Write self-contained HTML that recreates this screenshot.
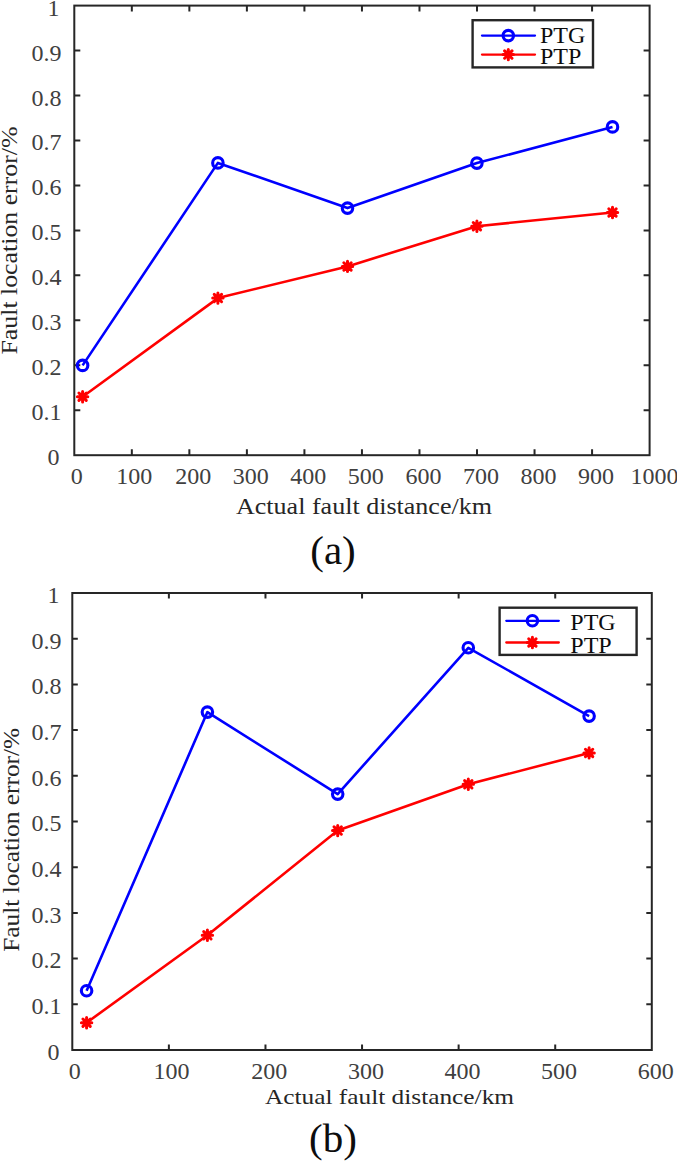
<!DOCTYPE html>
<html><head><meta charset="utf-8"><style>
html,body{margin:0;padding:0;background:#fff;}
svg{display:block;}
text{font-family:"Liberation Serif", serif;fill:#262626;}
.t{fill:#404040;}
.k{fill:#0d0d0d;}
</style></head><body>
<svg width="677" height="1161" viewBox="0 0 677 1161">
<rect width="677" height="1161" fill="#fff"/>
<rect x="74.3" y="5.6" width="575.3" height="449.6" fill="none" stroke="#262626" stroke-width="2"/>
<path d="M131.83 455.2v-6M131.83 5.6v6M189.36 455.2v-6M189.36 5.6v6M246.89 455.2v-6M246.89 5.6v6M304.42 455.2v-6M304.42 5.6v6M361.95 455.2v-6M361.95 5.6v6M419.48 455.2v-6M419.48 5.6v6M477.01 455.2v-6M477.01 5.6v6M534.54 455.2v-6M534.54 5.6v6M592.07 455.2v-6M592.07 5.6v6M74.3 410.24h6M649.6 410.24h-6M74.3 365.28h6M649.6 365.28h-6M74.3 320.32h6M649.6 320.32h-6M74.3 275.36h6M649.6 275.36h-6M74.3 230.4h6M649.6 230.4h-6M74.3 185.44h6M649.6 185.44h-6M74.3 140.48h6M649.6 140.48h-6M74.3 95.52h6M649.6 95.52h-6M74.3 50.56h6M649.6 50.56h-6" stroke="#262626" stroke-width="2" fill="none"/>
<text class="t" x="59.5" y="465.2" text-anchor="end" font-size="24">0</text>
<text class="t" x="61.5" y="420.24" text-anchor="end" font-size="24">0.1</text>
<text class="t" x="61.5" y="375.28" text-anchor="end" font-size="24">0.2</text>
<text class="t" x="61.5" y="330.32" text-anchor="end" font-size="24">0.3</text>
<text class="t" x="61.5" y="285.36" text-anchor="end" font-size="24">0.4</text>
<text class="t" x="61.5" y="240.4" text-anchor="end" font-size="24">0.5</text>
<text class="t" x="61.5" y="195.44" text-anchor="end" font-size="24">0.6</text>
<text class="t" x="61.5" y="150.48" text-anchor="end" font-size="24">0.7</text>
<text class="t" x="61.5" y="105.52" text-anchor="end" font-size="24">0.8</text>
<text class="t" x="61.5" y="60.56" text-anchor="end" font-size="24">0.9</text>
<text class="t" x="59.5" y="15.6" text-anchor="end" font-size="24">1</text>
<text class="t" x="76.8" y="484" text-anchor="middle" font-size="24">0</text>
<text class="t" x="134.33" y="484" text-anchor="middle" font-size="24">100</text>
<text class="t" x="193.26" y="484" text-anchor="middle" font-size="24">200</text>
<text class="t" x="250.79" y="484" text-anchor="middle" font-size="24">300</text>
<text class="t" x="308.32" y="484" text-anchor="middle" font-size="24">400</text>
<text class="t" x="365.85" y="484" text-anchor="middle" font-size="24">500</text>
<text class="t" x="423.38" y="484" text-anchor="middle" font-size="24">600</text>
<text class="t" x="480.91" y="484" text-anchor="middle" font-size="24">700</text>
<text class="t" x="538.44" y="484" text-anchor="middle" font-size="24">800</text>
<text class="t" x="595.97" y="484" text-anchor="middle" font-size="24">900</text>
<text class="t" x="654.6" y="484" text-anchor="middle" font-size="24">1000</text>
<text x="236" y="513.5" font-size="22.6" textLength="256" lengthAdjust="spacingAndGlyphs">Actual fault distance/km</text>
<text transform="translate(16.9 354.5) rotate(-90)" font-size="24" textLength="228" lengthAdjust="spacingAndGlyphs">Fault location error/%</text>
<polyline points="82.6,365.4 217.9,162.9 347.5,208.1 476.9,163.1 612.5,126.9" fill="none" stroke="#0000ff" stroke-width="2.6" stroke-linejoin="round"/>
<polyline points="82.6,396.7 217.9,298.1 347.5,266.4 476.9,226.2 612.5,212.5" fill="none" stroke="#ff0000" stroke-width="2.6" stroke-linejoin="round"/>
<circle cx="82.6" cy="365.4" r="5.25" stroke="#00f" stroke-width="3.1" fill="none"/>
<circle cx="217.9" cy="162.9" r="5.25" stroke="#00f" stroke-width="3.1" fill="none"/>
<circle cx="347.5" cy="208.1" r="5.25" stroke="#00f" stroke-width="3.1" fill="none"/>
<circle cx="476.9" cy="163.1" r="5.25" stroke="#00f" stroke-width="3.1" fill="none"/>
<circle cx="612.5" cy="126.9" r="5.25" stroke="#00f" stroke-width="3.1" fill="none"/>
<path d="M77.4 396.7L87.8 396.7M78.92 393.02L86.28 400.38M82.6 391.5L82.6 401.9M86.28 393.02L78.92 400.38" stroke="#f00" stroke-width="3.0" fill="none" stroke-linecap="round"/>
<path d="M212.7 298.1L223.1 298.1M214.22 294.42L221.58 301.78M217.9 292.9L217.9 303.3M221.58 294.42L214.22 301.78" stroke="#f00" stroke-width="3.0" fill="none" stroke-linecap="round"/>
<path d="M342.3 266.4L352.7 266.4M343.82 262.72L351.18 270.08M347.5 261.2L347.5 271.6M351.18 262.72L343.82 270.08" stroke="#f00" stroke-width="3.0" fill="none" stroke-linecap="round"/>
<path d="M471.7 226.2L482.1 226.2M473.22 222.52L480.58 229.88M476.9 221L476.9 231.4M480.58 222.52L473.22 229.88" stroke="#f00" stroke-width="3.0" fill="none" stroke-linecap="round"/>
<path d="M607.3 212.5L617.7 212.5M608.82 208.82L616.18 216.18M612.5 207.3L612.5 217.7M616.18 208.82L608.82 216.18" stroke="#f00" stroke-width="3.0" fill="none" stroke-linecap="round"/>
<rect x="472.6" y="20.2" width="120.4" height="47.2" fill="#fff" stroke="#262626" stroke-width="2.4"/>
<path d="M482 35.6H535" stroke="#0000ff" stroke-width="2.3" stroke-linecap="round"/>
<path d="M482 54.6H535" stroke="#ff0000" stroke-width="2.3" stroke-linecap="round"/>
<circle cx="508.3" cy="35.6" r="5.25" stroke="#00f" stroke-width="3.1" fill="none"/>
<path d="M503.1 54.6L513.5 54.6M504.62 50.92L511.98 58.28M508.3 49.4L508.3 59.8M511.98 50.92L504.62 58.28" stroke="#f00" stroke-width="3.0" fill="none" stroke-linecap="round"/>
<text x="540" y="43.2" font-size="24" class="k">PTG</text>
<text x="540" y="64.3" font-size="24" class="k">PTP</text>
<text x="333" y="564" text-anchor="middle" font-size="41" class="k">(a)</text>
<rect x="72.3" y="593" width="579.5" height="457" fill="none" stroke="#262626" stroke-width="2"/>
<path d="M168.88 1050v-5.5M168.88 593v5.5M265.47 1050v-5.5M265.47 593v5.5M362.05 1050v-5.5M362.05 593v5.5M458.63 1050v-5.5M458.63 593v5.5M555.22 1050v-5.5M555.22 593v5.5M72.3 1004.3h5.5M651.8 1004.3h-5.5M72.3 958.6h5.5M651.8 958.6h-5.5M72.3 912.9h5.5M651.8 912.9h-5.5M72.3 867.2h5.5M651.8 867.2h-5.5M72.3 821.5h5.5M651.8 821.5h-5.5M72.3 775.8h5.5M651.8 775.8h-5.5M72.3 730.1h5.5M651.8 730.1h-5.5M72.3 684.4h5.5M651.8 684.4h-5.5M72.3 638.7h5.5M651.8 638.7h-5.5" stroke="#262626" stroke-width="2" fill="none"/>
<text class="t" x="59.5" y="1059.8" text-anchor="end" font-size="24">0</text>
<text class="t" x="61.5" y="1014.1" text-anchor="end" font-size="24">0.1</text>
<text class="t" x="61.5" y="968.4" text-anchor="end" font-size="24">0.2</text>
<text class="t" x="61.5" y="922.7" text-anchor="end" font-size="24">0.3</text>
<text class="t" x="61.5" y="877" text-anchor="end" font-size="24">0.4</text>
<text class="t" x="61.5" y="831.3" text-anchor="end" font-size="24">0.5</text>
<text class="t" x="61.5" y="785.6" text-anchor="end" font-size="24">0.6</text>
<text class="t" x="61.5" y="739.9" text-anchor="end" font-size="24">0.7</text>
<text class="t" x="61.5" y="694.2" text-anchor="end" font-size="24">0.8</text>
<text class="t" x="61.5" y="648.5" text-anchor="end" font-size="24">0.9</text>
<text class="t" x="59.5" y="602.8" text-anchor="end" font-size="24">1</text>
<text class="t" x="74.8" y="1079" text-anchor="middle" font-size="24">0</text>
<text class="t" x="171.38" y="1079" text-anchor="middle" font-size="24">100</text>
<text class="t" x="269.37" y="1079" text-anchor="middle" font-size="24">200</text>
<text class="t" x="365.95" y="1079" text-anchor="middle" font-size="24">300</text>
<text class="t" x="462.53" y="1079" text-anchor="middle" font-size="24">400</text>
<text class="t" x="559.12" y="1079" text-anchor="middle" font-size="24">500</text>
<text class="t" x="655.7" y="1079" text-anchor="middle" font-size="24">600</text>
<text x="265" y="1103.6" font-size="22" textLength="249" lengthAdjust="spacingAndGlyphs">Actual fault distance/km</text>
<text transform="translate(18.9 951.8) rotate(-90)" font-size="24" textLength="224" lengthAdjust="spacingAndGlyphs">Fault location error/%</text>
<polyline points="86.6,990.8 207.4,712.1 337.7,794.1 468.3,647.8 589.1,716.1" fill="none" stroke="#0000ff" stroke-width="2.6" stroke-linejoin="round"/>
<polyline points="86.6,1022.7 207.4,935.3 337.7,830.6 468.3,784.3 589.1,752.9" fill="none" stroke="#ff0000" stroke-width="2.6" stroke-linejoin="round"/>
<circle cx="86.6" cy="990.8" r="5.25" stroke="#00f" stroke-width="3.1" fill="none"/>
<circle cx="207.4" cy="712.1" r="5.25" stroke="#00f" stroke-width="3.1" fill="none"/>
<circle cx="337.7" cy="794.1" r="5.25" stroke="#00f" stroke-width="3.1" fill="none"/>
<circle cx="468.3" cy="647.8" r="5.25" stroke="#00f" stroke-width="3.1" fill="none"/>
<circle cx="589.1" cy="716.1" r="5.25" stroke="#00f" stroke-width="3.1" fill="none"/>
<path d="M81.4 1022.7L91.8 1022.7M82.92 1019.02L90.28 1026.38M86.6 1017.5L86.6 1027.9M90.28 1019.02L82.92 1026.38" stroke="#f00" stroke-width="3.0" fill="none" stroke-linecap="round"/>
<path d="M202.2 935.3L212.6 935.3M203.72 931.62L211.08 938.98M207.4 930.1L207.4 940.5M211.08 931.62L203.72 938.98" stroke="#f00" stroke-width="3.0" fill="none" stroke-linecap="round"/>
<path d="M332.5 830.6L342.9 830.6M334.02 826.92L341.38 834.28M337.7 825.4L337.7 835.8M341.38 826.92L334.02 834.28" stroke="#f00" stroke-width="3.0" fill="none" stroke-linecap="round"/>
<path d="M463.1 784.3L473.5 784.3M464.62 780.62L471.98 787.98M468.3 779.1L468.3 789.5M471.98 780.62L464.62 787.98" stroke="#f00" stroke-width="3.0" fill="none" stroke-linecap="round"/>
<path d="M583.9 752.9L594.3 752.9M585.42 749.22L592.78 756.58M589.1 747.7L589.1 758.1M592.78 749.22L585.42 756.58" stroke="#f00" stroke-width="3.0" fill="none" stroke-linecap="round"/>
<rect x="499.6" y="607.7" width="137" height="47.2" fill="#fff" stroke="#262626" stroke-width="2.4"/>
<path d="M506.3 620.8H558.8" stroke="#0000ff" stroke-width="2.3" stroke-linecap="round"/>
<path d="M506.3 642.5H558.8" stroke="#ff0000" stroke-width="2.3" stroke-linecap="round"/>
<circle cx="532.4" cy="620.8" r="5.25" stroke="#00f" stroke-width="3.1" fill="none"/>
<path d="M527.2 642.5L537.6 642.5M528.72 638.82L536.08 646.18M532.4 637.3L532.4 647.7M536.08 638.82L528.72 646.18" stroke="#f00" stroke-width="3.0" fill="none" stroke-linecap="round"/>
<text x="570.3" y="630.4" font-size="24" class="k">PTG</text>
<text x="570.3" y="652.5" font-size="24" class="k">PTP</text>
<text x="333" y="1152" text-anchor="middle" font-size="41" class="k">(b)</text>
</svg>
</body></html>
